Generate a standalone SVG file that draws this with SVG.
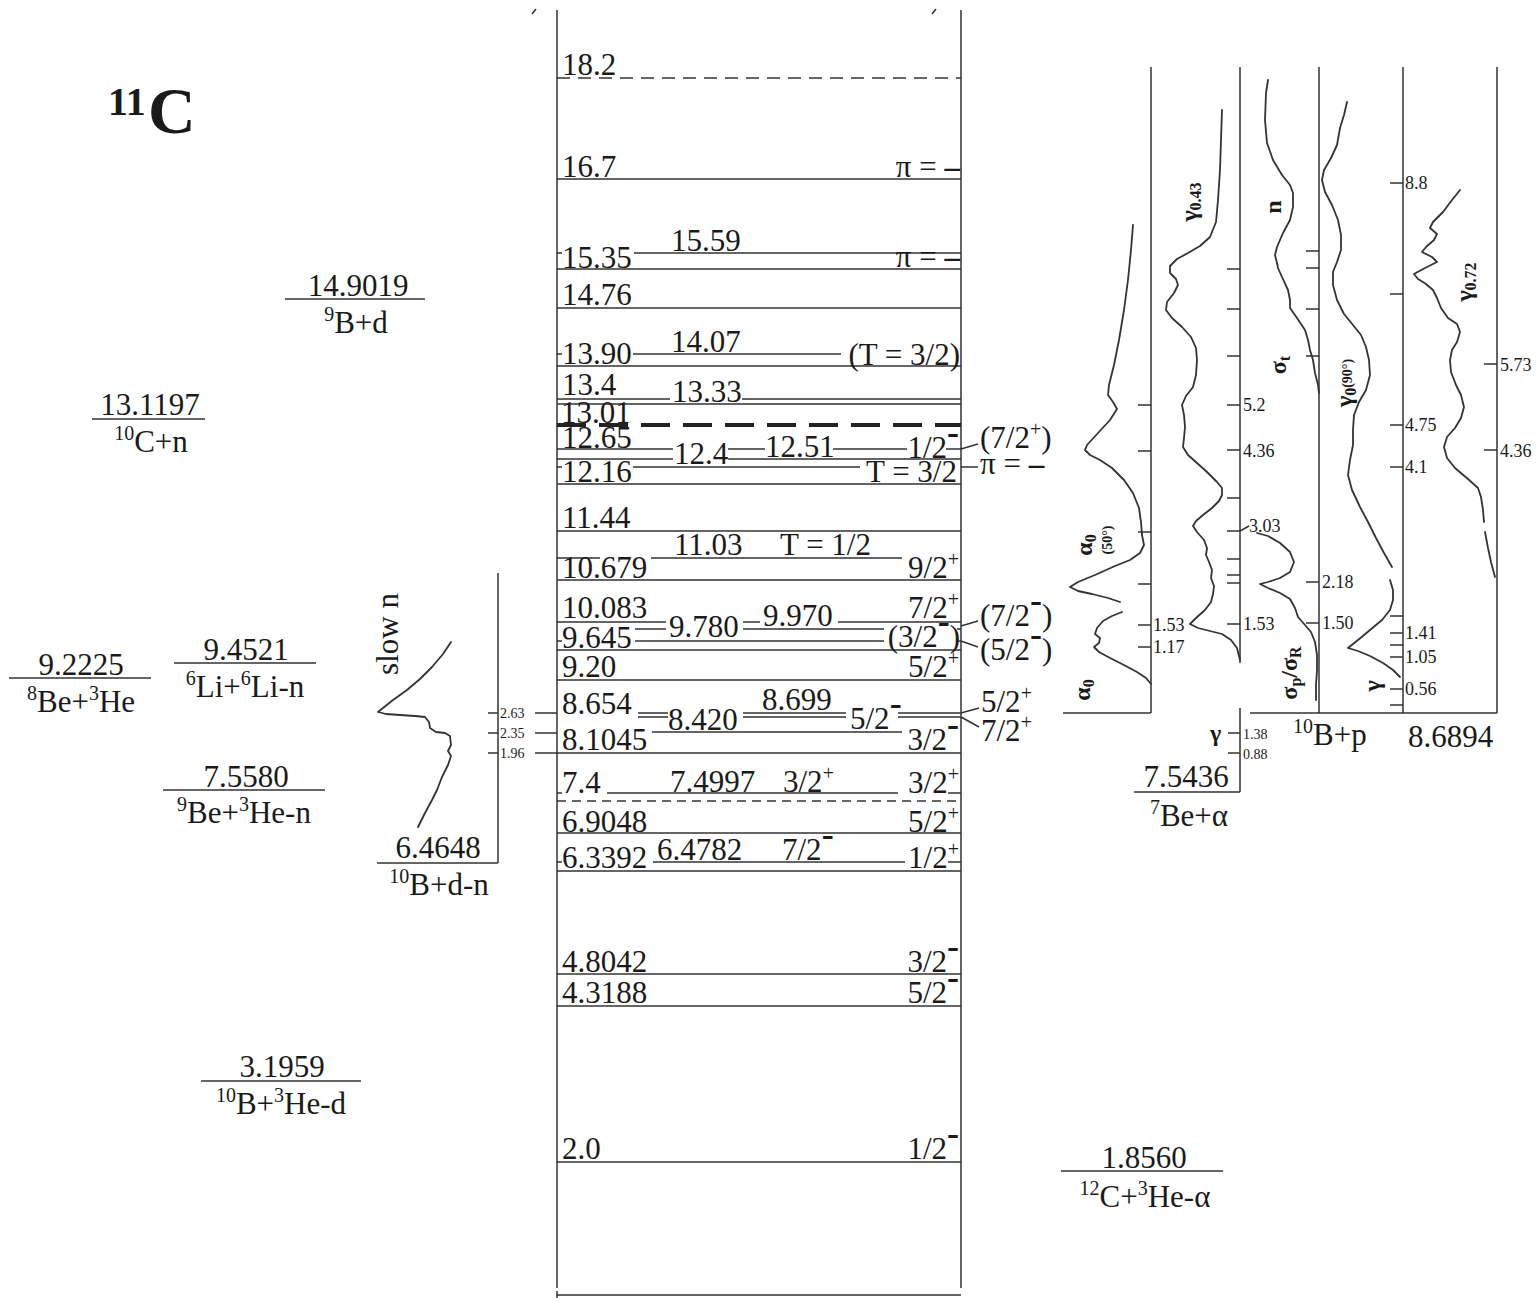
<svg xmlns="http://www.w3.org/2000/svg" width="1537" height="1298" viewBox="0 0 1537 1298">
<style>
.ln{stroke:#333;stroke-width:1.5;fill:none}
.dl{stroke:#333;stroke-width:1.5;fill:none;stroke-dasharray:13 8}
.dt{stroke:#222;stroke-width:4;fill:none;stroke-dasharray:29 13}
.ds{stroke:#333;stroke-width:1.5;fill:none;stroke-dasharray:9 6}
.cv{stroke:#333;stroke-width:1.8;fill:none;stroke-linejoin:round;stroke-linecap:round}
text{font-family:"Liberation Serif","Times New Roman",serif;fill:#1a1a1a}
.t{font-size:31px}
.s{font-size:18px}
.xs{font-size:14px}
.b{font-weight:bold}
.e{text-anchor:end}
.m{text-anchor:middle}
.sp{font-size:20px}
.sm{font-size:36px;font-weight:bold}
.g{font-size:24px;font-weight:bold}
.gs{font-size:16px;font-weight:bold}
</style>
<rect width="1537" height="1298" fill="#fff"/>
<g id="title"><text class="b" x="108" y="115" font-size="40">11</text><text class="b" x="148" y="133" font-size="66">C</text></g>
<g id="frame"><path class="ln" d="M557 10V1288M961 10V1288M557 1295H961M557 1291V1298M532 14L536 9M932 14L936 9"/></g>

<g id="levels">
<g id="l18-2"><path class="dl" d="M557 78H961"/><text class="t" x="562" y="75">18.2</text></g>
<g id="l16-7"><path class="ln" d="M557 179H961"/><text class="t" x="562" y="177">16.7</text><text class="t e" x="960" y="177">π = <tspan class="b">–</tspan></text></g>
<g id="l15-35"><path class="ln" d="M557 253H562M634 253H961M557 269H961"/><text class="t" x="562" y="268">15.35</text><text class="t" x="671" y="251">15.59</text><text class="t e" x="960" y="267">π = <tspan class="b">–</tspan></text></g>
<g id="l14-76"><path class="ln" d="M557 308H961"/><text class="t" x="562" y="305">14.76</text></g>
<g id="l13-90"><path class="ln" d="M557 354H562M633 354H841M557 366H961"/><text class="t" x="562" y="364">13.90</text><text class="t" x="671" y="352">14.07</text><text class="t e" x="960" y="365">(T = 3/2)</text></g>
<g id="l13-4"><path class="ln" d="M557 399H670M742 399H961M557 404H961"/><text class="t" x="562" y="395">13.4</text><text class="t" x="672" y="402">13.33</text></g>
<g id="l13-01"><path class="dt" d="M557 425H961"/><text class="t" x="561" y="423">13.01</text></g>
<g id="l12-65"><path class="ln" d="M557 449H673M728 449H765M833 449H907M946 449H961M557 459H673M728 459H961M557 467H562M633 467H860M557 484H961"/>
<text class="t" x="562" y="448">12.65</text><text class="t" x="562" y="482">12.16</text><text class="t" x="674" y="464">12.4</text><text class="t" x="765" y="457">12.51</text>
<text class="t e" x="959" y="458">1/2<tspan class="sm" dy="-14">-</tspan></text><text class="t e" x="957" y="482">T = 3/2</text>
<text class="t" x="980" y="448">(7/2<tspan class="sp" dy="-12">+</tspan><tspan dy="12">)</tspan></text><text class="t" x="980" y="474">π = <tspan class="b">–</tspan></text></g>
<g id="l11-44"><path class="ln" d="M557 531H961"/><text class="t" x="562" y="528">11.44</text></g>
<g id="l10-679"><path class="ln" d="M557 558H600M651 558H902M557 580H961"/><text class="t" x="562" y="578">10.679</text><text class="t" x="674" y="555">11.03</text><text class="t" x="780" y="555">T = 1/2</text><text class="t e" x="959" y="578">9/2<tspan class="sp" dy="-12">+</tspan></text></g>
<g id="l10-083"><path class="ln" d="M557 622H666M743 622H760M838 622H961M635 629H666M743 629H884M957 629H961M557 641H562M635 641H884M957 641H961M557 650H961"/>
<text class="t" x="562" y="618">10.083</text><text class="t" x="562" y="648">9.645</text><text class="t" x="669" y="637">9.780</text><text class="t" x="763" y="626">9.970</text>
<text class="t e" x="959" y="618">7/2<tspan class="sp" dy="-12">+</tspan></text><text class="t e" x="960" y="647">(3/2<tspan class="sm" dy="-14">-</tspan><tspan dy="14">)</tspan></text>
<text class="t" x="980" y="626">(7/2<tspan class="sm" dy="-14">-</tspan><tspan dy="14">)</tspan></text><text class="t" x="980" y="660">(5/2<tspan class="sm" dy="-14">-</tspan><tspan dy="14">)</tspan></text></g>
<g id="l9-20"><path class="ln" d="M557 680H961"/><text class="t" x="562" y="677">9.20</text><text class="t e" x="959" y="677">5/2<tspan class="sp" dy="-12">+</tspan></text></g>
<g id="l8-654"><path class="ln" d="M638 713H668M743 713H846M898 713H961M638 717H668M743 717H846M898 717H961M652 732H902M557 753H961"/>
<text class="t" x="562" y="714">8.654</text><text class="t" x="562" y="750">8.1045</text><text class="t" x="668" y="730">8.420</text><text class="t" x="762" y="710">8.699</text>
<text class="t" x="850" y="729">5/2<tspan class="sm" dy="-14">-</tspan></text><text class="t e" x="959" y="750">3/2<tspan class="sm" dy="-14">-</tspan></text>
<text class="t" x="981" y="712">5/2<tspan class="sp" dy="-12">+</tspan></text><text class="t" x="981" y="741">7/2<tspan class="sp" dy="-12">+</tspan></text></g>
<g id="l7-4"><path class="ln" d="M557 793H562M607 793H898M948 793H961"/><path class="ds" d="M557 801H961"/>
<text class="t" x="562" y="793">7.4</text><text class="t" x="670" y="792">7.4997</text><text class="t" x="783" y="792">3/2<tspan class="sp" dy="-12">+</tspan></text><text class="t e" x="959" y="793">3/2<tspan class="sp" dy="-12">+</tspan></text></g>
<g id="l6-9048"><path class="ln" d="M557 833H961"/><text class="t" x="562" y="832">6.9048</text><text class="t e" x="959" y="832">5/2<tspan class="sp" dy="-12">+</tspan></text></g>
<g id="l6-3392"><path class="ln" d="M557 862H562M653 862H905M948 862H961M557 871H961"/><text class="t" x="562" y="868">6.3392</text><text class="t" x="657" y="860">6.4782</text><text class="t" x="782" y="860">7/2<tspan class="sm" dy="-14">-</tspan></text><text class="t e" x="959" y="868">1/2<tspan class="sp" dy="-12">+</tspan></text></g>
<g id="l4-8042"><path class="ln" d="M557 974H961"/><text class="t" x="562" y="972">4.8042</text><text class="t e" x="959" y="972">3/2<tspan class="sm" dy="-14">-</tspan></text></g>
<g id="l4-3188"><path class="ln" d="M557 1006H961"/><text class="t" x="562" y="1003">4.3188</text><text class="t e" x="959" y="1003">5/2<tspan class="sm" dy="-14">-</tspan></text></g>
<g id="l2-0"><path class="ln" d="M557 1162H961"/><text class="t" x="562" y="1159">2.0</text><text class="t e" x="959" y="1159">1/2<tspan class="sm" dy="-14">-</tspan></text></g>
</g>

<g id="connectors"><path class="ln" d="M961 449L978 444M961 467L978 467M961 626L978 621M961 641L978 647M961 713L979 708M961 717L979 727M535 713H557M535 733H557M535 753H557M1240 531L1249 526"/></g>

<g id="th-9B-d"><path class="ln" d="M285 299H425"/><text class="t m" x="358" y="296">14.9019</text><text class="t m" x="356" y="333"><tspan class="sp" dy="-12">9</tspan><tspan dy="12">B+d</tspan></text></g>
<g id="th-10C-n"><path class="ln" d="M92 419H205"/><text class="t m" x="150" y="415">13.1197</text><text class="t m" x="151" y="452"><tspan class="sp" dy="-12">10</tspan><tspan dy="12">C+n</tspan></text></g>
<g id="th-8Be-3He"><path class="ln" d="M9 678H151"/><text class="t m" x="81" y="675">9.2225</text><text class="t m" x="81" y="712"><tspan class="sp" dy="-12">8</tspan><tspan dy="12">Be+</tspan><tspan class="sp" dy="-12">3</tspan><tspan dy="12">He</tspan></text></g>
<g id="th-6Li-6Li-n"><path class="ln" d="M174 663H316"/><text class="t m" x="246" y="660">9.4521</text><text class="t m" x="245" y="697"><tspan class="sp" dy="-12">6</tspan><tspan dy="12">Li+</tspan><tspan class="sp" dy="-12">6</tspan><tspan dy="12">Li-n</tspan></text></g>
<g id="th-9Be-3He-n"><path class="ln" d="M163 790H325"/><text class="t m" x="246" y="787">7.5580</text><text class="t m" x="244" y="823"><tspan class="sp" dy="-12">9</tspan><tspan dy="12">Be+</tspan><tspan class="sp" dy="-12">3</tspan><tspan dy="12">He-n</tspan></text></g>
<g id="th-10B-3He-d"><path class="ln" d="M201 1081H361"/><text class="t m" x="282" y="1077">3.1959</text><text class="t m" x="281" y="1114"><tspan class="sp" dy="-12">10</tspan><tspan dy="12">B+</tspan><tspan class="sp" dy="-12">3</tspan><tspan dy="12">He-d</tspan></text></g>
<g id="th-12C-3He-a"><path class="ln" d="M1061 1171H1223"/><text class="t m" x="1144" y="1168">1.8560</text><text class="t m" x="1145" y="1207"><tspan class="sp" dy="-12">12</tspan><tspan dy="12">C+</tspan><tspan class="sp" dy="-12">3</tspan><tspan dy="12">He-α</tspan></text></g>

<g id="slow-n">
<path class="ln" d="M498 573V863M377 863H498M488 713H498M488 733H498M488 753H498"/>
<text class="xs" x="500" y="718">2.63</text><text class="xs" x="500" y="738">2.35</text><text class="xs" x="500" y="758">1.96</text>
<text class="t m" transform="translate(398,634) rotate(-90)">slow n</text>
<polyline class="cv" points="451,642 443,654 432,667 420,679 407,690 393,700 383,708 378,712 386,714 400,715 415,716 425,717 429,722 430,728 436,732 445,733 450,736 451,745 448,751 451,756 448,765 442,777 437,790 432,800 425,813 418,827"/>
<text class="t m" x="438" y="858">6.4648</text><text class="t m" x="439" y="895"><tspan class="sp" dy="-12">10</tspan><tspan dy="12">B+d-n</tspan></text>
</g>

<g id="panel-alpha">
<path class="ln" d="M1151 67V713M1063 713H1151M1138 405H1151M1138 451H1151M1138 532H1151M1138 584H1151M1138 625H1151M1138 647H1151"/>
<text class="s" x="1153" y="631">1.53</text><text class="s" x="1153" y="653">1.17</text>
<polyline class="cv" points="1133,225 1131,250 1128,280 1124,310 1119,340 1114,365 1109,385 1108,395 1113,402 1117,409 1110,420 1098,433 1087,445 1085,450 1090,455 1100,460 1112,468 1124,480 1133,493 1139,508 1141,522 1142,535 1144,545 1140,553 1130,560 1115,566 1095,575 1078,582 1070,587 1078,591 1092,594 1108,598 1120,602"/>
<polyline class="cv" points="1122,612 1112,616 1103,621 1097,628 1095,634 1100,638 1099,643 1094,647 1099,652 1110,658 1122,664 1137,672 1146,678 1151,684"/>
<text class="g" transform="translate(1092,545) rotate(-90)" text-anchor="middle">α<tspan class="gs" dy="4">0</tspan></text>
<text class="xs b" transform="translate(1112,540) rotate(-90)" text-anchor="middle">(50°)</text>
<text class="g" transform="translate(1090,690) rotate(-90)" text-anchor="middle">α<tspan class="gs" dy="4">0</tspan></text>
</g>

<g id="panel-gamma043">
<path class="ln" d="M1240 67V663M1227 269H1240M1227 309H1240M1227 356H1240M1227 405H1240M1227 450H1240M1227 498H1240M1227 531H1240M1227 559H1240M1227 575H1240M1227 583H1240M1227 624H1240"/>
<text class="s" x="1243" y="411">5.2</text><text class="s" x="1243" y="457">4.36</text><text class="s" x="1249" y="532">3.03</text><text class="s" x="1243" y="630">1.53</text>
<polyline class="cv" points="1222,110 1221,140 1220,170 1218,200 1216,222 1210,237 1200,246 1188,253 1177,259 1170,266 1170,273 1176,279 1178,285 1174,293 1167,302 1166,310 1172,318 1182,327 1191,337 1196,348 1197,360 1196,375 1193,387 1186,396 1182,405 1184,415 1185,427 1184,438 1183,447 1188,455 1197,463 1207,472 1217,482 1222,488 1222,495 1219,501 1212,508 1203,515 1196,521 1193,526 1197,532 1204,540 1207,548 1206,555 1209,562 1212,570 1211,578 1214,586 1213,594 1211,602 1205,610 1196,618 1190,624 1198,628 1210,631 1222,634 1231,640 1237,648 1240,660"/>
<text class="g" transform="translate(1197,202) rotate(-90)" text-anchor="middle">γ<tspan class="gs" dy="4">0.43</tspan></text>
</g>

<g id="panel-7Be-a">
<path class="ln" d="M1240 708V792M1228 733H1240M1228 753H1240M1134 792H1240"/>
<text class="xs" x="1243" y="739" font-size="16">1.38</text><text class="xs" x="1243" y="759" font-size="16">0.88</text>
<text class="g" x="1210" y="741">γ</text>
<text class="t m" x="1186" y="787">7.5436</text><text class="t m" x="1189" y="826"><tspan class="sp" dy="-12">7</tspan><tspan dy="12">Be+α</tspan></text>
</g>

<g id="panel-sigma">
<path class="ln" d="M1319 67V713M1250 713H1497M1306 251H1319M1306 268H1319M1306 309H1319M1306 356H1319M1306 582H1319M1306 623H1319"/>
<text class="s" x="1322" y="588">2.18</text><text class="s" x="1322" y="629">1.50</text>
<polyline class="cv" points="1268,80 1266,93 1265,120 1267,143 1273,160 1282,175 1290,185 1293,193 1293,207 1290,220 1283,233 1277,247 1275,255 1277,263 1278,268 1282,277 1288,290 1290,300 1290,308 1297,318 1305,330 1308,340 1310,350 1313,360 1315,373 1318,385 1319,393"/>
<polyline class="cv" points="1257,533 1268,536 1280,543 1290,552 1294,562 1290,572 1280,578 1268,582 1260,584 1268,588 1280,593 1290,599 1295,608 1298,617 1305,625 1311,632 1315,642 1317,655 1317,670 1316,685 1316,700"/>
<text class="g" transform="translate(1281,207) rotate(-90)" text-anchor="middle">n</text>
<text class="g" transform="translate(1286,365) rotate(-90)" text-anchor="middle">σ<tspan class="gs" dy="4">t</tspan></text>
<text class="g" transform="translate(1297,673) rotate(-90)" text-anchor="middle">σ<tspan class="gs" dy="4">p</tspan><tspan dy="-4">/σ</tspan><tspan class="gs" dy="4">R</tspan></text>
<text class="t" x="1293" y="745"><tspan class="sp" dy="-12">10</tspan><tspan dy="12">B+p</tspan></text>
</g>

<g id="panel-gamma0">
<path class="ln" d="M1403 67V713M1390 183H1403M1390 294H1403M1390 425H1403M1390 467H1403M1390 616H1403M1390 633H1403M1390 645H1403M1390 657H1403M1390 689H1403M1390 705H1403"/>
<text class="s" x="1405" y="189">8.8</text><text class="s" x="1405" y="431">4.75</text><text class="s" x="1405" y="473">4.1</text><text class="s" x="1405" y="639">1.41</text><text class="s" x="1405" y="663">1.05</text><text class="s" x="1405" y="695">0.56</text>
<polyline class="cv" points="1347,102 1344,115 1340,128 1337,145 1331,158 1324,170 1322,180 1325,192 1332,205 1338,220 1341,235 1341,250 1337,262 1333,272 1333,285 1337,300 1344,314 1353,325 1361,335 1366,347 1369,360 1370,375 1366,390 1359,402 1354,415 1353,430 1353,445 1350,460 1348,475 1352,490 1360,507 1368,522 1376,538 1384,553 1392,567"/>
<polyline class="cv" points="1390,580 1393,590 1393,600 1390,610 1382,620 1370,630 1358,640 1348,648 1358,651 1370,656 1383,663 1393,670 1400,677"/>
<text class="g" font-size="22" transform="translate(1352,383) rotate(-90)" text-anchor="middle">γ<tspan class="gs" dy="4">0</tspan><tspan class="xs b" dy="-4">(90°)</tspan></text>
<text class="g" transform="translate(1380,686) rotate(-90)" text-anchor="middle">γ</text>
</g>

<g id="panel-gamma072">
<path class="ln" d="M1497 67V713M1484 364H1497M1484 450H1497"/>
<text class="s" x="1500" y="371">5.73</text><text class="s" x="1500" y="457">4.36</text>
<polyline class="cv" points="1460,190 1452,200 1443,212 1433,222 1430,228 1437,234 1434,240 1426,247 1422,252 1432,257 1437,262 1425,268 1414,274 1418,279 1426,284 1433,290 1437,298 1441,308 1448,318 1457,324 1460,332 1457,342 1452,350 1450,360 1451,372 1456,385 1461,395 1464,407 1461,418 1455,428 1447,437 1444,447 1447,458 1455,468 1468,479 1478,488 1481,497 1483,510 1484,522"/>
<polyline class="cv" points="1485,532 1488,548 1491,562 1495,577"/>
<text class="g" transform="translate(1472,282) rotate(-90)" text-anchor="middle">γ<tspan class="gs" dy="4">0.72</tspan></text>
<text class="t" x="1408" y="747">8.6894</text>
</g>
</svg>
